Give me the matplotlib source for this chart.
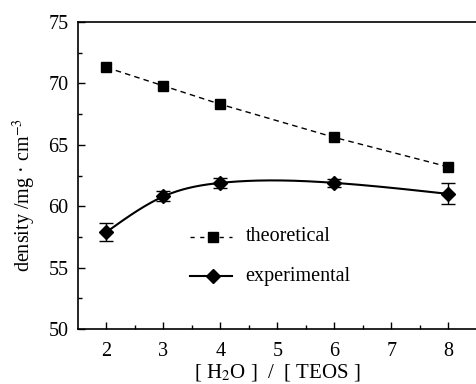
import numpy as np
import matplotlib.pyplot as plt

ratio = [2, 3, 4, 6, 8]
theoretical = [71.3, 69.8, 68.3, 65.6, 63.2]
experimental = [57.9, 60.8, 61.9, 61.9, 61.0]
exp_err = [0.7, 0.4, 0.4, 0.3, 0.85]


def natural_spline(x, y, xs):
    # plain natural cubic spline, only used to draw the smooth line
    x = np.asarray(x, float)
    y = np.asarray(y, float)
    n = len(x)
    h = np.diff(x)
    A = np.zeros((n, n))
    b = np.zeros(n)
    A[0, 0] = A[-1, -1] = 1
    for i in range(1, n - 1):
        A[i, i - 1] = h[i - 1]
        A[i, i] = 2 * (h[i - 1] + h[i])
        A[i, i + 1] = h[i]
        b[i] = 6 * ((y[i + 1] - y[i]) / h[i] - (y[i] - y[i - 1]) / h[i - 1])
    M = np.linalg.solve(A, b)
    out = np.empty_like(xs)
    for k, t in enumerate(xs):
        i = min(max(np.searchsorted(x, t) - 1, 0), n - 2)
        a, c = x[i], x[i + 1]
        hi = c - a
        out[k] = (M[i] * (c - t) ** 3 / (6 * hi) + M[i + 1] * (t - a) ** 3 / (6 * hi)
                  + (y[i] / hi - M[i] * hi / 6) * (c - t)
                  + (y[i + 1] / hi - M[i + 1] * hi / 6) * (t - a))
    return out


plt.rcParams['font.family'] = ['Liberation Serif', 'DejaVu Serif']
plt.rcParams['mathtext.fontset'] = 'stix'

fig = plt.figure(figsize=(4.77, 3.84), dpi=100)
ax = fig.add_axes([0.1635, 0.1432, 0.8365, 0.7995])

ax.plot(ratio, theoretical, color='black', linestyle=(0, (4, 3)), linewidth=1,
        marker='s', markersize=7)

xs = np.linspace(ratio[0], ratio[-1], 200)
ax.plot(xs, natural_spline(ratio, experimental, xs), color='black', linewidth=1.5)
ax.errorbar(ratio, experimental, yerr=exp_err, fmt='D', color='black',
            markersize=7.5, capsize=5, elinewidth=1, capthick=1)

# legend drawn by hand inside the axes
ax.plot([3.46, 4.21], [57.5, 57.5], color='black', linestyle=(0, (3, 4)), linewidth=1)
ax.plot([3.86], [57.5], marker='s', color='black', markersize=7)
ax.text(4.44, 57.5, 'theoretical', fontsize=14.5, va='center')
ax.plot([3.46, 4.21], [54.3, 54.3], color='black', linewidth=1.5)
ax.plot([3.86], [54.3], marker='D', color='black', markersize=7.5)
ax.text(4.44, 54.3, 'experimental', fontsize=14.5, va='center')

ax.set_xlim(1.5, 8.5)
ax.set_ylim(50, 75)
ax.set_xticks([2, 3, 4, 5, 6, 7, 8])
ax.set_xticks(np.arange(2.5, 8.5, 1), minor=True)
ax.set_yticks([50, 55, 60, 65, 70, 75])
ax.set_yticks(np.arange(52.5, 75, 5), minor=True)
ax.tick_params(direction='in', labelsize=14.5, length=5, width=1)
ax.tick_params(axis='x', pad=9)
ax.tick_params(axis='y', pad=7)
ax.tick_params(which='minor', direction='in', length=3, width=1)
ax.spines['right'].set_visible(False)
for s in ['left', 'bottom', 'top']:
    ax.spines[s].set_linewidth(1.2)

ax.set_xlabel('[ H$_2$O ]  /  [ TEOS ]', fontsize=15, labelpad=1)
ax.set_ylabel('density /mg · cm$^{-3}$', fontsize=14.5)
ax.yaxis.set_label_coords(-0.10, 0.437)

fig.savefig('out.png', dpi=100)
